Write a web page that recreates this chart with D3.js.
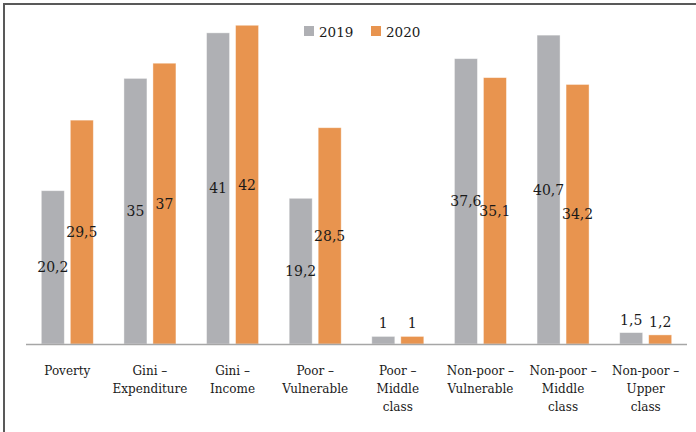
<!DOCTYPE html>
<html>
<head>
<meta charset="utf-8">
<script src="https://cdn.jsdelivr.net/npm/d3@7"></script>
<style>
html,body{margin:0;padding:0;background:#fff;}
svg{display:block;}
</style>
</head>
<body>
<script>
const categories = [
  ["Poverty"],
  ["Gini –", "Expenditure"],
  ["Gini –", "Income"],
  ["Poor –", "Vulnerable"],
  ["Poor –", "Middle", "class"],
  ["Non-poor –", "Vulnerable"],
  ["Non-poor –", "Middle", "class"],
  ["Non-poor –", "Upper", "class"]
];
const seriesNames = ["2019", "2020"];
const values2019 = [20.2, 35, 41, 19.2, 1, 37.6, 40.7, 1.5];
const values2020 = [29.5, 37, 42, 28.5, 1, 35.1, 34.2, 1.2];
const valueLabels2019 = ["20,2", "35", "41", "19,2", "1", "37,6", "40,7", "1,5"];
const valueLabels2020 = ["29,5", "37", "42", "28,5", "1", "35,1", "34,2", "1,2"];
const colors = ["#AFB0B4", "#E8944F"];

const FONT = "DejaVu Serif, serif";
const W = 696, H = 432;
const svg = d3.select("body").append("svg").attr("width", W).attr("height", H)
  .style("font-family", FONT);

// outer frame
svg.append("rect").attr("x", 4).attr("y", 4).attr("width", W + 10).attr("height", H + 10)
  .attr("fill", "none").attr("stroke", "#595959").attr("stroke-width", 2);

const x0 = d3.scaleBand().domain(d3.range(categories.length)).range([26, 687]).paddingInner(0).paddingOuter(0);
const y = d3.scaleLinear().domain([0, 45]).range([344, 2.5]);
const barW = 23, gap = 6;

const series = [values2019, values2020];
const labels = [valueLabels2019, valueLabels2020];

series.forEach((vals, s) => {
  vals.forEach((v, i) => {
    const cx = x0(i) + x0.bandwidth() / 2;
    const bx = s === 0 ? cx - gap / 2 - barW : cx + gap / 2;
    svg.append("rect")
      .attr("x", bx).attr("y", y(v))
      .attr("width", barW).attr("height", y(0) - y(v))
      .attr("fill", colors[s])
      .attr("stroke", "#fff").attr("stroke-opacity", 0.5).attr("stroke-width", 0.8);
  });
});
series.forEach((vals, s) => {
  vals.forEach((v, i) => {
    const cx = x0(i) + x0.bandwidth() / 2;
    const bx = s === 0 ? cx - gap / 2 - barW : cx + gap / 2;
    const tx = bx + barW / 2;
    const ty = v < 5 ? y(v) - 8 : (y(v) + y(0)) / 2 + 5;
    svg.append("text").attr("x", tx).attr("y", ty)
      .attr("text-anchor", "middle").attr("fill", "#1a1a1a")
      .style("font-family", FONT).style("font-size", "14px")
      .text(labels[s][i]);
  });
});

// baseline
svg.append("line").attr("x1", 26).attr("x2", 687).attr("y1", 344.5).attr("y2", 344.5)
  .attr("stroke", "#A6A6A6").attr("stroke-width", 1.5);

// category labels
categories.forEach((lines, i) => {
  const cx = x0(i) + x0.bandwidth() / 2;
  const t = svg.append("text").attr("text-anchor", "middle")
    .attr("fill", "#1a1a1a").style("font-family", FONT).style("font-size", "12px");
  lines.forEach((ln, k) => {
    t.append("tspan").attr("x", cx).attr("y", 375 + k * 18).text(ln);
  });
});

// legend
const legendX = [304, 371];
seriesNames.forEach((n, s) => {
  svg.append("rect").attr("x", legendX[s]).attr("y", 26).attr("width", 10).attr("height", 10).attr("fill", colors[s]);
  svg.append("text").attr("x", legendX[s] + 15).attr("y", 37)
    .attr("fill", "#1a1a1a").style("font-family", FONT).style("font-size", "13.5px").text(n);
});
</script>
</body>
</html>
